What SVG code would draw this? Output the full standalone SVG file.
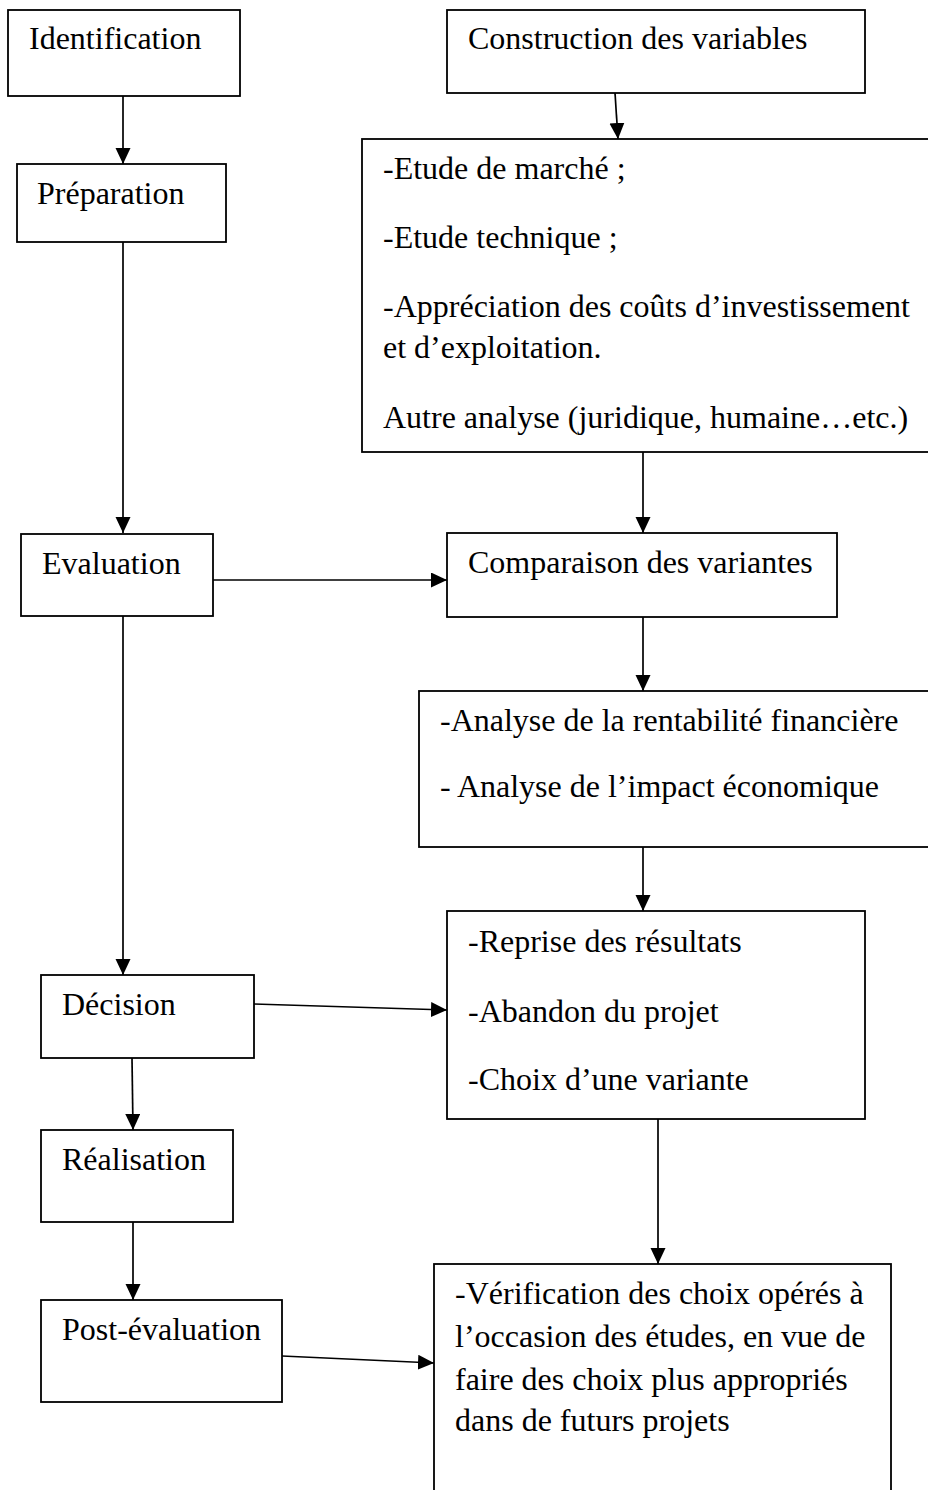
<svg xmlns="http://www.w3.org/2000/svg" width="928" height="1490" viewBox="0 0 928 1490">
<style>
.box{fill:#fff;stroke:#000;stroke-width:1.8}
.t{font-family:"Liberation Serif","Times New Roman",serif;font-size:32px;fill:#000}
.c{stroke:#000;stroke-width:1.7;fill:none}
</style>
<defs>
<marker id="ah" markerUnits="userSpaceOnUse" markerWidth="16" markerHeight="16" refX="16" refY="7.5" orient="auto">
<path d="M0,0 L16,7.5 L0,15 z" fill="#000"/>
</marker>
</defs>
<rect width="928" height="1490" fill="#fff"/>
<g id="connectors">
<line class="c" x1="123" y1="96" x2="123" y2="164" marker-end="url(#ah)"/>
<line class="c" x1="123" y1="242" x2="123" y2="533" marker-end="url(#ah)"/>
<line class="c" x1="615" y1="93" x2="618" y2="139" marker-end="url(#ah)"/>
<line class="c" x1="643" y1="452" x2="643" y2="533" marker-end="url(#ah)"/>
<line class="c" x1="213" y1="580" x2="447" y2="580" marker-end="url(#ah)"/>
<line class="c" x1="643" y1="617" x2="643" y2="691" marker-end="url(#ah)"/>
<line class="c" x1="123" y1="616" x2="123" y2="975" marker-end="url(#ah)"/>
<line class="c" x1="643" y1="847" x2="643" y2="911" marker-end="url(#ah)"/>
<line class="c" x1="254" y1="1004" x2="447" y2="1010" marker-end="url(#ah)"/>
<line class="c" x1="132" y1="1058" x2="133" y2="1130" marker-end="url(#ah)"/>
<line class="c" x1="658" y1="1119" x2="658" y2="1264" marker-end="url(#ah)"/>
<line class="c" x1="133" y1="1222" x2="133" y2="1300" marker-end="url(#ah)"/>
<line class="c" x1="282" y1="1356" x2="434" y2="1363" marker-end="url(#ah)"/>
</g>
<g id="identification">
<rect class="box" x="8" y="10" width="232" height="86"/>
<text class="t" x="29" y="49">Identification</text>
</g>
<g id="preparation">
<rect class="box" x="17" y="164" width="209" height="78"/>
<text class="t" x="37" y="204">Préparation</text>
</g>
<g id="construction">
<rect class="box" x="447" y="10" width="418" height="83"/>
<text class="t" x="468" y="49">Construction des variables</text>
</g>
<g id="etudes">
<rect class="box" x="362" y="139" width="580" height="313"/>
<text class="t" x="383" y="179">-Etude de marché ;</text>
<text class="t" x="383" y="248">-Etude technique ;</text>
<text class="t" x="383" y="317">-Appréciation des coûts d’investissement</text>
<text class="t" x="383" y="358">et d’exploitation.</text>
<text class="t" x="383" y="428">Autre analyse (juridique, humaine…etc.)</text>
</g>
<g id="evaluation">
<rect class="box" x="21" y="534" width="192" height="82"/>
<text class="t" x="42" y="574">Evaluation</text>
</g>
<g id="comparaison">
<rect class="box" x="447" y="533" width="390" height="84"/>
<text class="t" x="468" y="573">Comparaison des variantes</text>
</g>
<g id="analyse">
<rect class="box" x="419" y="691" width="523" height="156"/>
<text class="t" x="440" y="731">-Analyse de la rentabilité financière</text>
<text class="t" x="440" y="797">- Analyse de l’impact économique</text>
</g>
<g id="decision">
<rect class="box" x="41" y="975" width="213" height="83"/>
<text class="t" x="62" y="1015">Décision</text>
</g>
<g id="resultats">
<rect class="box" x="447" y="911" width="418" height="208"/>
<text class="t" x="468" y="952">-Reprise des résultats</text>
<text class="t" x="468" y="1022">-Abandon du projet</text>
<text class="t" x="468" y="1090">-Choix d’une variante</text>
</g>
<g id="realisation">
<rect class="box" x="41" y="1130" width="192" height="92"/>
<text class="t" x="62" y="1170">Réalisation</text>
</g>
<g id="post-evaluation">
<rect class="box" x="41" y="1300" width="241" height="102"/>
<text class="t" x="62" y="1340">Post-évaluation</text>
</g>
<g id="verification">
<rect class="box" x="434" y="1264" width="457" height="240"/>
<text class="t" x="455" y="1304">-Vérification des choix opérés à</text>
<text class="t" x="455" y="1347">l’occasion des études, en vue de</text>
<text class="t" x="455" y="1390">faire des choix plus appropriés</text>
<text class="t" x="455" y="1431">dans de futurs projets</text>
</g>
</svg>
